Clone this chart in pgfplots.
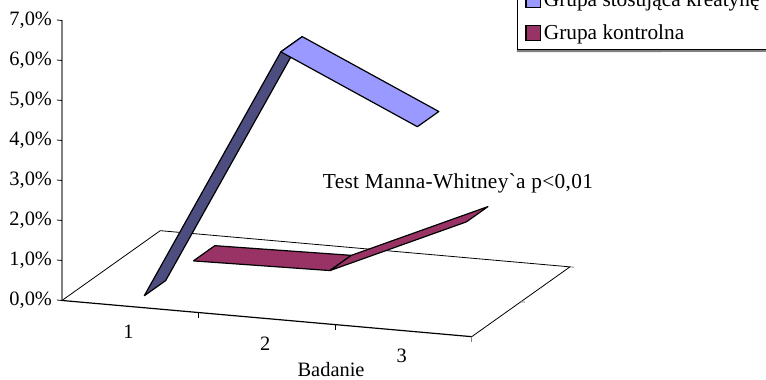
\documentclass[border=0pt]{standalone}
\usepackage{pgfplots}
\pgfplotsset{compat=1.18}
\usepackage{fontspec}
\setmainfont{Liberation Serif}[Ligatures=TeXOff]
\newfontfamily\roznica{Liberation Serif}[Ligatures=TeXOff,LetterSpace=1.5]
\definecolor{grupaA}{HTML}{9999FF}
\definecolor{grupaAdark}{HTML}{4D4D80}
\definecolor{grupaB}{HTML}{993366}
\definecolor{osie}{HTML}{808080}
\begin{document}
\begin{tikzpicture}
\path[use as bounding box] (0,0) rectangle (574.5pt,284.25pt);
\begin{axis}[
  at={(46.5pt,58.9pt)}, anchor=origin,
  x={(102.43pt,-9.05pt)}, y={(73.7pt,52.35pt)}, z={(0pt,30pt)},
  xmin=0, xmax=3, ymin=0, ymax=1, zmin=0, zmax=7,
  clip=false,
  axis x line*=bottom, axis y line=none,
  axis z line*=left,
  x axis line style={draw=none},
  z axis line style={draw=osie, line width=1.1pt, -},
  ztick={0,1,2,3,4,5,6,7},
  zticklabels={{0,0\%},{1,0\%},{2,0\%},{3,0\%},{4,0\%},{5,0\%},{6,0\%},{7,0\%}},
  major tick length=0pt,
  tick label style={font=\fontsize{15.3}{18}\selectfont},
  zticklabel style={anchor=east, xshift=-4pt},
  xtick={0.5,1.5,2.5},
  xticklabels={1,2,3},
  xticklabel style={anchor=north, yshift=-10pt, xshift=-1.3pt},
  legend cell align=left,
  legend style={
    at={(axis cs:3.331,0,7.268)}, anchor=south west,
    draw=black, line width=0.6pt, inner xsep=6pt, inner ysep=4pt,
    font=\fontsize{16}{18}\selectfont,
    row sep=8pt,
  },
  legend image code/.code={
    \draw[#1] (3pt,-5.5pt) rectangle (14pt,5.5pt);
  },
]
% floor of the plot
\addplot3[black, line width=0.6pt, forget plot] coordinates {(0,0,0)(0,1,0)(3,1,0)(3,0,0)};
\addplot3[black, line width=0.9pt, forget plot] coordinates {(0,0,0)(3,0,0)};
% tick marks
\addplot3[black, line width=0.6pt, forget plot] coordinates {(1,0,0)(1,0,-0.14)};
\addplot3[black, line width=0.6pt, forget plot] coordinates {(2,0,0)(2,0,-0.14)};
\addplot3[osie, line width=0.6pt, forget plot] coordinates {(3,0,0)(3,0,-0.14)};
\addplot3[osie, line width=0.6pt, forget plot] coordinates {(3,0.5,0)(3.03,0.5,0)};
\addplot3[osie, line width=0.6pt, forget plot] coordinates {(3,1,0)(3.03,1,0)};
\pgfplotsinvokeforeach{0,1,2,3,4,5,6,7}{
  \addplot3[black, line width=0.6pt, forget plot] coordinates {(0,0,#1)(-0.037,0,#1)};
}
% control group ribbon
\addplot3[fill=grupaB, draw=black, line width=0.9pt, line join=round, forget plot]
  coordinates {(0.5,0.642,0.02)(0.5,0.86,0.02)(1.5,0.86,0.08)(1.5,0.642,0.08)(0.5,0.642,0.02)};
\addplot3[fill=grupaB, draw=black, line width=0.9pt, line join=round, forget plot]
  coordinates {(1.5,0.642,0.08)(1.5,0.86,0.08)(2.5,0.86,1.6)(2.5,0.642,1.6)(1.5,0.642,0.08)};
% creatine group ribbon
\addplot3[fill=grupaAdark, draw=black, line width=0.9pt, line join=round, forget plot]
  coordinates {(0.5,0.142,0.02)(0.5,0.36,0.02)(1.5,0.36,6.42)(1.5,0.142,6.42)(0.5,0.142,0.02)};
\addplot3[fill=grupaA, draw=black, line width=0.9pt, line join=round, forget plot]
  coordinates {(1.5,0.142,6.42)(1.5,0.36,6.42)(2.5,0.36,4.85)(2.5,0.142,4.85)(1.5,0.142,6.42)};
% legend entries
\addlegendimage{fill=grupaA, draw=black, line width=0.9pt}
\addlegendentry{Grupa stosująca kreatynę}
\addlegendimage{fill=grupaB, draw=black, line width=0.9pt}
\addlegendentry{Grupa kontrolna}
% shadow under the legend box
\draw[osie, line width=1.6pt] (axis cs:3.331,0,7.243) -- (axis cs:5.2,0,7.807);
\node[font=\fontsize{16}{18}\roznica] at (axis cs:2.899,0,3.81) {Test Manna-Whitney`a p<0,01};
\node[font=\fontsize{15.3}{18}\selectfont, inner sep=0pt] at (axis cs:1.97,0,-1.13) {Badanie};
\end{axis}
\end{tikzpicture}
\end{document}
